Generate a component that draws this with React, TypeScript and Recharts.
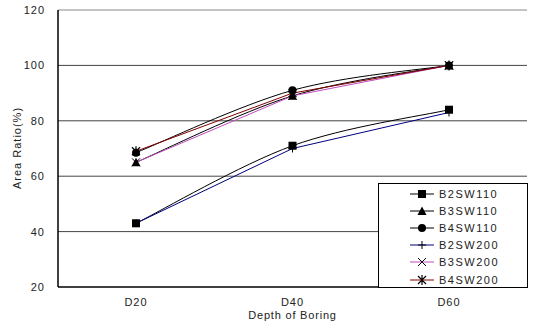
import React from "react";
import { LineChart, Line, XAxis, YAxis, ReferenceLine } from "recharts";

const categories = ["D20", "D40", "D60"];
const b2sw110 = [43, 71, 84];
const b3sw110 = [65, 89, 100];
const b4sw110 = [68.5, 91, 100];
const b2sw200 = [43, 70, 83];
const b3sw200 = [65, 89, 100];
const b4sw200 = [69, 90, 100];
const yTicks = [20, 40, 60, 80, 100, 120];

type Shape = "square" | "triangle" | "circle" | "plus" | "cross" | "star";

const series: { key: string; values: number[]; color: string; shape: Shape; smooth: boolean }[] = [
  { key: "B2SW110", values: b2sw110, color: "#000000", shape: "square", smooth: true },
  { key: "B3SW110", values: b3sw110, color: "#000000", shape: "triangle", smooth: true },
  { key: "B4SW110", values: b4sw110, color: "#000000", shape: "circle", smooth: true },
  { key: "B2SW200", values: b2sw200, color: "#000080", shape: "plus", smooth: false },
  { key: "B3SW200", values: b3sw200, color: "#c04cc0", shape: "cross", smooth: false },
  { key: "B4SW200", values: b4sw200, color: "#800000", shape: "star", smooth: false },
];

const data = categories.map((c, i) => {
  const row: Record<string, string | number> = { name: c };
  series.forEach((s) => (row[s.key] = s.values[i]));
  return row;
});

const FONT = "'Liberation Sans', Arial, sans-serif";

// Excel-style smoothed line (Catmull-Rom, mild tension)
const smoothCurve = (context: any) => {
  let pts: number[][] = [];
  return {
    areaStart() {},
    areaEnd() {},
    lineStart() {
      pts = [];
    },
    point(x: number, y: number) {
      pts.push([+x, +y]);
    },
    lineEnd() {
      if (!pts.length) return;
      context.moveTo(pts[0][0], pts[0][1]);
      const k = 1 / 6;
      for (let i = 0; i < pts.length - 1; i++) {
        const p0 = pts[i - 1] ?? pts[i];
        const p1 = pts[i];
        const p2 = pts[i + 1];
        const p3 = pts[i + 2] ?? pts[i + 1];
        context.bezierCurveTo(
          p1[0] + (p2[0] - p0[0]) * k,
          p1[1] + (p2[1] - p0[1]) * k,
          p2[0] - (p3[0] - p1[0]) * k,
          p2[1] - (p3[1] - p1[1]) * k,
          p2[0],
          p2[1]
        );
      }
    },
  };
};

const Marker = ({ cx, cy, shape }: { cx: number; cy: number; shape: Shape }) => {
  const r = 4;
  switch (shape) {
    case "square":
      return <rect x={cx - r} y={cy - r} width={r * 2} height={r * 2} fill="#000" />;
    case "triangle":
      return (
        <polygon
          points={`${cx},${cy - r - 0.5} ${cx + r + 0.5},${cy + r} ${cx - r - 0.5},${cy + r}`}
          fill="#000"
        />
      );
    case "circle":
      return <circle cx={cx} cy={cy} r={r} fill="#000" />;
    case "plus":
      return (
        <path d={`M${cx - r},${cy}H${cx + r}M${cx},${cy - r}V${cy + r}`} stroke="#000" strokeWidth={1} />
      );
    case "cross":
      return (
        <path
          d={`M${cx - r},${cy - r}L${cx + r},${cy + r}M${cx - r},${cy + r}L${cx + r},${cy - r}`}
          stroke="#000"
          strokeWidth={1}
        />
      );
    default:
      return (
        <path
          d={`M${cx - r},${cy - r}L${cx + r},${cy + r}M${cx - r},${cy + r}L${cx + r},${cy - r}M${cx},${cy - r - 1}V${cy + r + 1}`}
          stroke="#000"
          strokeWidth={1.2}
        />
      );
  }
};

const LegendBox = () => (
  <div
    style={{
      position: "absolute",
      left: 378,
      top: 183,
      width: 150,
      height: 105,
      boxSizing: "border-box",
      border: "1px solid #000",
      background: "#fff",
      paddingTop: 1,
      fontFamily: FONT,
      fontSize: 11,
      letterSpacing: 1.5,
      color: "#222",
    }}
  >
    {series.map((s) => (
      <div key={s.key} style={{ height: 17.2, display: "flex", alignItems: "center", paddingLeft: 30 }}>
        <svg width={26} height={12} style={{ display: "block" }}>
          <line x1={1} y1={6} x2={25} y2={6} stroke={s.color} strokeWidth={1} />
          <Marker cx={13} cy={6} shape={s.shape} />
        </svg>
        <span style={{ marginLeft: 4 }}>{s.key}</span>
      </div>
    ))}
  </div>
);

const App = () => {
  return (
    <div style={{ position: "absolute", left: 0, top: 0, width: 533, height: 329, background: "#fff" }}>
      <LineChart width={533} height={329} data={data} margin={{ top: 10, right: 6, bottom: 0, left: 0 }}>
        {yTicks.slice(1).map((t) => (
          <ReferenceLine key={t} y={t} stroke={t === 120 ? "#888" : "#444"} strokeWidth={1} />
        ))}
        <XAxis
          dataKey="name"
          height={42}
          padding={{ left: 78, right: 78 }}
          axisLine={{ stroke: "#000", strokeWidth: 1.5 }}
          tickLine={false}
          tickSize={0}
          tickMargin={11}
          tick={{ fill: "#222", fontSize: 11, fontFamily: FONT, letterSpacing: 1 }}
          label={{
            value: "Depth of Boring",
            position: "insideBottom",
            offset: 10,
            fill: "#222",
            fontSize: 11,
            fontFamily: FONT,
            letterSpacing: 0.8,
          }}
        />
        <YAxis
          width={58}
          domain={[20, 120]}
          ticks={yTicks}
          axisLine={{ stroke: "#000", strokeWidth: 1.5 }}
          tickLine={false}
          tickSize={0}
          tickMargin={13}
          tick={{ fill: "#222", fontSize: 11, fontFamily: FONT, letterSpacing: 1 }}
          label={{
            content: () => (
              <text
                x={17}
                y={148}
                transform="rotate(-90 17 148)"
                textAnchor="middle"
                dominantBaseline="central"
                fill="#222"
                fontSize={11}
                fontFamily={FONT}
                letterSpacing={1}
              >
                Area Ratio(%)
              </text>
            ),
          }}
        />
        <YAxis
          yAxisId="right"
          orientation="right"
          width={0}
          domain={[20, 120]}
          ticks={yTicks}
          axisLine={{ stroke: "#999", strokeWidth: 1.5 }}
          tickLine={false}
          tick={false}
        />
        {series.map((s) => (
          <Line
            key={s.key}
            dataKey={s.key}
            type={s.smooth ? (smoothCurve as any) : "linear"}
            stroke={s.color}
            strokeWidth={1}
            isAnimationActive={false}
            dot={(p: any) => <Marker key={`${s.key}-${p.index}`} cx={p.cx} cy={p.cy} shape={s.shape} />}
            activeDot={false}
          />
        ))}
      </LineChart>
      <LegendBox />
    </div>
  );
};

export default App;
